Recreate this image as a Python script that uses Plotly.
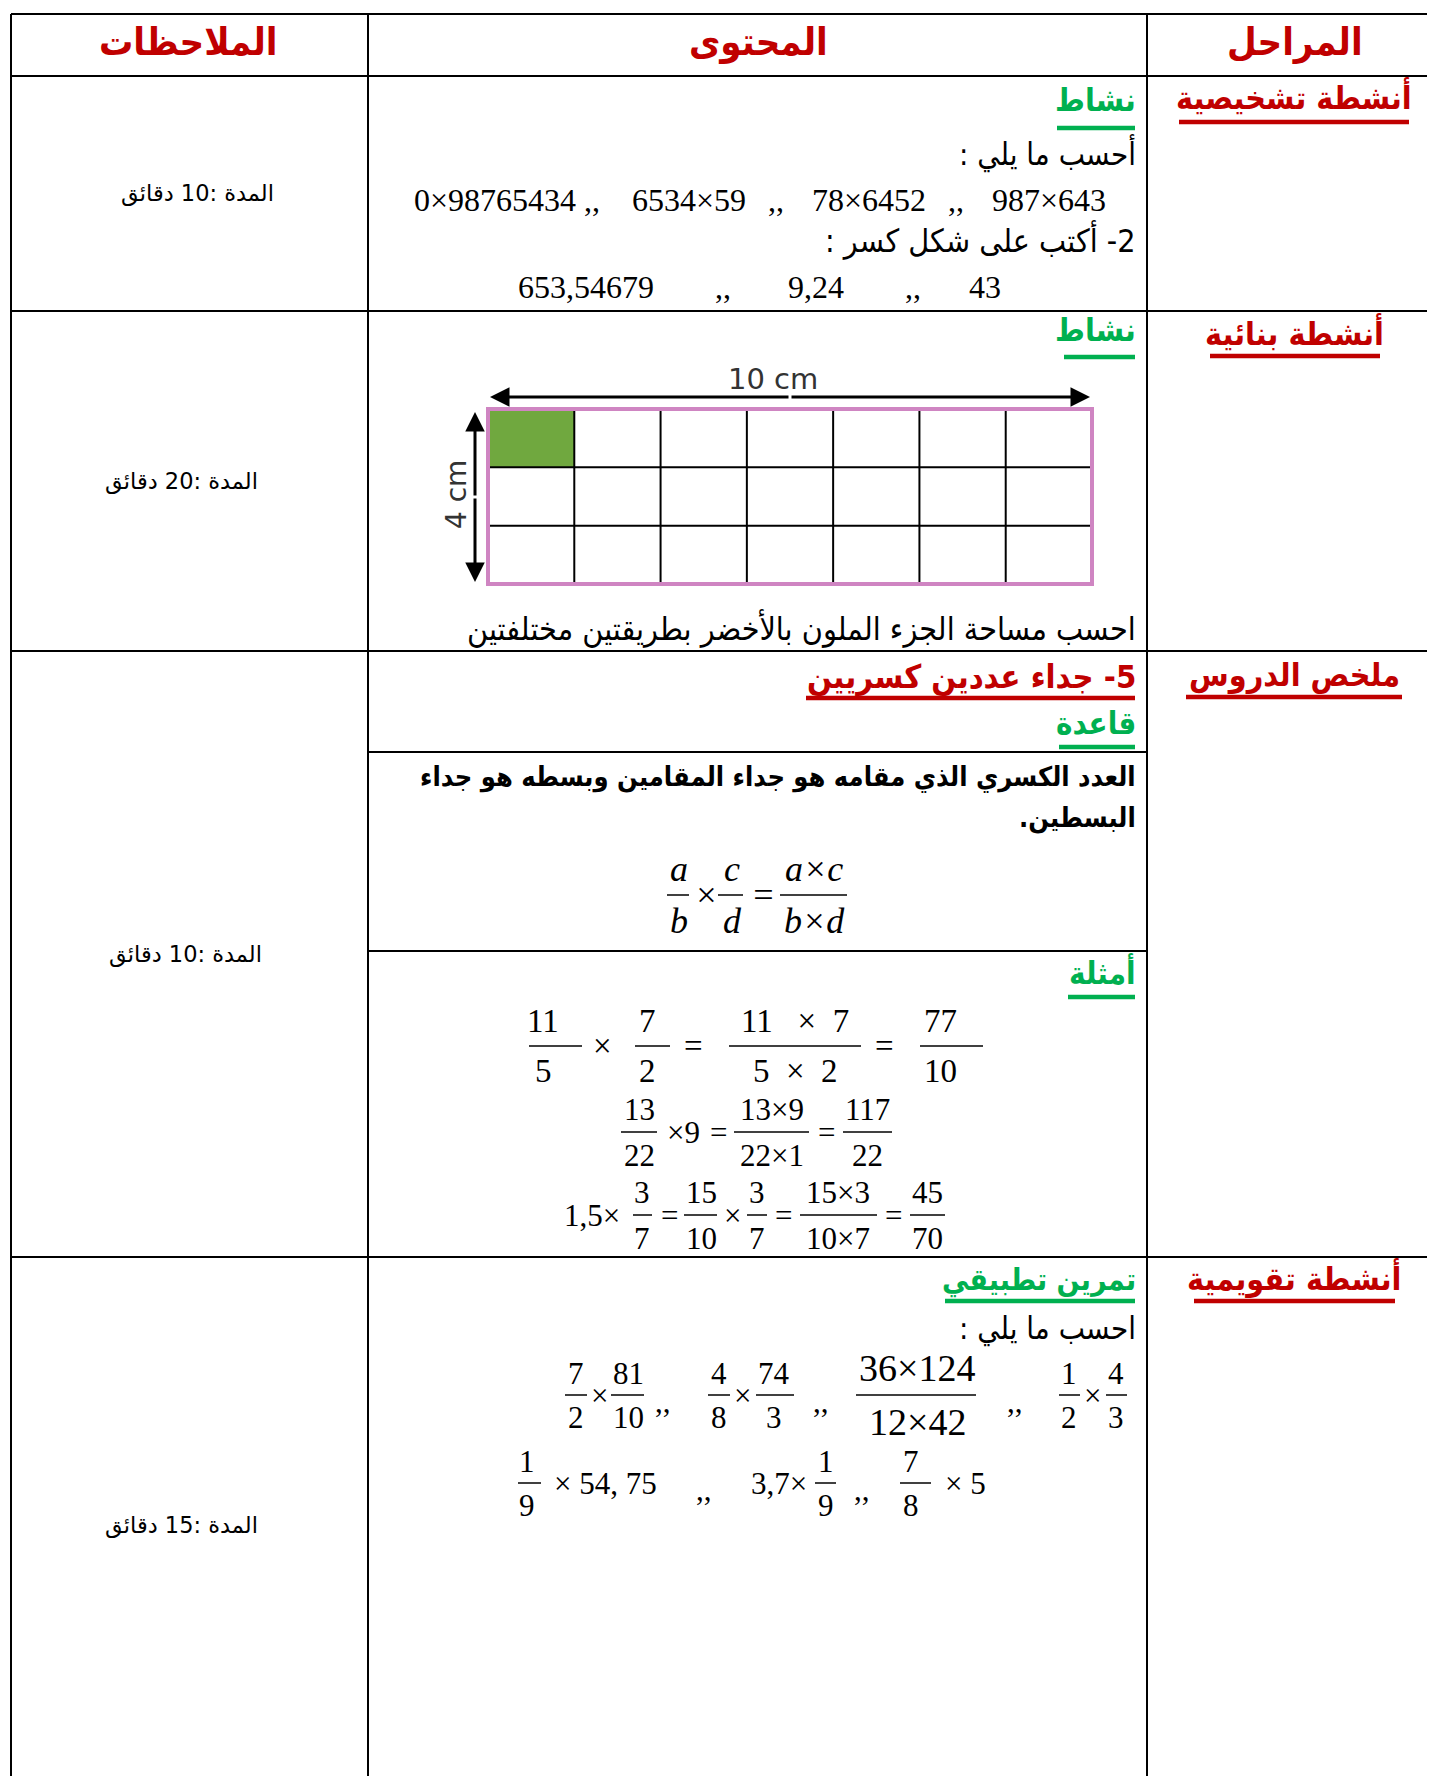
import plotly.graph_objects as go

W, H = 1435, 1784
PAGE_PAD = 8  # browser body margin, compensated in the axis ranges
RED = "#C00000"
GREEN = "#00B050"
AR = "DejaVu Sans Condensed, DejaVu Sans, sans-serif"
AR_PLAIN = "DejaVu Sans, sans-serif"
SERIF = "Liberation Serif, Times New Roman, serif"
RLM = "\u200F"

# ---- table content ----
headers = ["الملاحظات", "المحتوى", "المراحل"]
stages = ["أنشطة تشخيصية", "أنشطة بنائية", "ملخص الدروس", "أنشطة تقويمية"]
durations = ["المدة :10 دقائق", "المدة :20 دقائق", "المدة :10 دقائق", "المدة :15 دقائق"]

activity = "نشاط"
compute = "أحسب ما يلي :"
products = ["0×98765434", ",,", "6534×59", ",,", "78×6452", ",,", "987×643"]
write_frac = "2- أكتب على شكل كسر :"
decimals = ["653,54679", ",,", "9,24", ",,", "43"]

grid_cols, grid_rows = 7, 3
shaded = (0, 0)
width_label, height_label = "10 cm", "4 cm"
area_task = "احسب مساحة الجزء الملون بالأخضر بطريقتين مختلفتين"

lesson_title = "5- جداء عددين كسريين"
rule_title = "قاعدة"
rule_lines = ["العدد الكسري الذي مقامه هو جداء المقامين وبسطه هو جداء", "البسطين."]
formula = [("a", "b"), "×", ("c", "d"), "=", ("a×c", "b×d")]
examples_title = "أمثلة"
example1 = [("11", "5"), "×", ("7", "2"), "=", ("11   ×  7", "5  ×  2"), "=", ("77", "10")]
example2 = [("13", "22"), "×9", "=", ("13×9", "22×1"), "=", ("117", "22")]
example3 = ["1,5×", ("3", "7"), "=", ("15", "10"), "×", ("3", "7"), "=", ("15×3", "10×7"), "=", ("45", "70")]

exercise_title = "تمرين تطبيقي"
compute2 = "احسب ما يلي :"
exercise1 = [("7", "2"), "×", ("81", "10"), ",,", ("4", "8"), "×", ("74", "3"), ",,",
             ("36×124", "12×42"), ",,", ("1", "2"), "×", ("4", "3")]
exercise2 = [("1", "9"), "× 54, 75", ",,", "3,7×", ("1", "9"), ",,", ("7", "8"), "× 5"]

# ---- layout geometry ----
col_x = [11, 368, 1147]
row_y = [14, 76, 311, 651, 1257]
inner_y = [752, 951]

fig = go.Figure()
shapes = []
ann = []


def line(x0, y0, x1, y1, color="black", w=2):
    shapes.append(dict(type="line", x0=x0, y0=y0, x1=x1, y1=y1, xref="x", yref="y",
                       line=dict(color=color, width=w)))


def txt(x, y, s, size, color="black", font=AR, xanchor="center", bold=False, italic=False,
        angle=0, rtl=False):
    if rtl:
        s = RLM + s + RLM
    if bold:
        s = "<b>" + s + "</b>"
    if italic:
        s = "<i>" + s + "</i>"
    ann.append(dict(x=x, y=y, xref="x", yref="y", text=s, showarrow=False, xanchor=xanchor,
                    yanchor="middle", textangle=angle, font=dict(size=size, color=color, family=font)))


def expr(tokens, xs, bars, ybar, dy, size, italic=False, sizes=None):
    for i, tok in enumerate(tokens):
        sz = sizes[i] if sizes else size
        if isinstance(tok, tuple):
            num, den = tok
            d = dy if sz == size else dy + 5
            txt(xs[i], ybar - d, num, sz, font=SERIF, italic=italic)
            txt(xs[i], ybar + d, den, sz, font=SERIF, italic=italic)
            b0, b1 = bars[i]
            line(b0, ybar, b1, ybar, w=1.5)
        else:
            off = 6 if tok == ",," else 0
            txt(xs[i], ybar + off, tok, sz, font=SERIF, italic=italic)


# table frame (no right / bottom border, as in the page crop)
for y in row_y:
    line(col_x[0], y, W, y)
for x in col_x:
    line(x, row_y[0], x, H)
for y in inner_y:
    line(col_x[1], y, col_x[2], y)

# headers
for x, h in zip([188, 758, 1295], headers):
    txt(x, 42, h, 38, RED, bold=True, rtl=True)

# stage labels with underline
stage_y = [97, 333, 675, 1278]
stage_ul = [(1179, 1409, 122), (1210, 1380, 356), (1186, 1402, 697), (1194, 1395, 1301)]
for s, y, (u0, u1, uy) in zip(stages, stage_y, stage_ul):
    txt(1294, y, s, 32, RED, bold=True, rtl=True)
    line(u0, uy, u1, uy, RED, 4.5)

# durations
for s, (x, y) in zip(durations, [(197, 193), (181, 481), (185, 954), (181, 1525)]):
    txt(x, y, s, 22.5, font=AR_PLAIN, rtl=True)

RX = 1138   # right anchor of content text
UX = 1135   # right end of content underlines

# row 1
txt(RX, 100, activity, 32, GREEN, xanchor="right", bold=True, rtl=True)
line(1057, 128, UX, 128, GREEN, 4.5)
txt(RX, 153, compute, 31, xanchor="right", rtl=True)
for s, x in zip(products, [495, 592, 689, 776, 869, 956, 1049]):
    txt(x, 200, s, 32, font=SERIF)
txt(RX, 240, write_frac, 32, xanchor="right", rtl=True)
for s, x in zip(decimals, [586, 723, 816, 913, 985]):
    txt(x, 287, s, 32, font=SERIF)

# row 2
txt(RX, 330, activity, 32, GREEN, xanchor="right", bold=True, rtl=True)
line(1064, 357, UX, 357, GREEN, 4.5)
gx0, gx1, gy0, gy1 = 488, 1092, 409, 584
cw = (gx1 - gx0) / grid_cols
ch = (gy1 - gy0) / grid_rows
c, r = shaded
shapes.append(dict(type="rect", x0=gx0 + c * cw, x1=gx0 + (c + 1) * cw, y0=gy0 + r * ch,
                   y1=gy0 + (r + 1) * ch, xref="x", yref="y", fillcolor="#70A83F",
                   line=dict(width=0)))
for i in range(1, grid_cols):
    line(gx0 + i * cw, gy0, gx0 + i * cw, gy1, w=2)
for j in range(1, grid_rows):
    line(gx0, gy0 + j * ch, gx1, gy0 + j * ch, w=2)
shapes.append(dict(type="rect", x0=gx0, x1=gx1, y0=gy0, y1=gy1, xref="x", yref="y",
                   line=dict(color="#CF85C2", width=4)))
for hx in [490, 1090]:
    ann.append(dict(x=hx, y=397, ax=790, ay=397, xref="x", yref="y", axref="x", ayref="y",
                    text="", showarrow=True, arrowhead=2, arrowsize=1.3, arrowwidth=3,
                    arrowcolor="black"))
for hy in [412, 582]:
    ann.append(dict(x=475, y=hy, ax=475, ay=497, xref="x", yref="y", axref="x", ayref="y",
                    text="", showarrow=True, arrowhead=2, arrowsize=1.3, arrowwidth=3,
                    arrowcolor="black"))
txt(773, 379, width_label, 29, "#333333", font="DejaVu Sans")
txt(456, 495, height_label, 28, "#333333", font="DejaVu Sans", angle=-90)
txt(RX, 628, area_task, 32, xanchor="right", rtl=True)

# row 3
txt(RX, 677, lesson_title, 32.5, RED, xanchor="right", bold=True, rtl=True)
line(806, 698, UX, 698, RED, 4.5)
txt(RX, 723, rule_title, 31, GREEN, xanchor="right", bold=True, rtl=True)
line(1059, 747, UX, 747, GREEN, 4.5)
txt(RX, 777, rule_lines[0], 27, xanchor="right", bold=True, rtl=True)
txt(RX, 818, rule_lines[1], 27, xanchor="right", bold=True, rtl=True)
expr(formula, [679, 706, 732, 763, 814], [(667, 689), None, (718, 743), None, (780, 847)],
     895, 26, 36, italic=True)
txt(RX, 972, examples_title, 31, GREEN, xanchor="right", bold=True, rtl=True)
line(1068, 997, UX, 997, GREEN, 4.5)
expr(example1, [543, 602, 647, 693, 795, 884, 940],
     [(529, 582), None, (635, 670), None, (729, 861), None, (920, 983)], 1046, 25, 33)
expr(example2, [639, 683, 718, 772, 826, 867],
     [(621, 657), None, None, (734, 809), None, (843, 892)], 1132, 23, 31)
expr(example3, [592, 642, 669, 701, 732, 757, 783, 838, 893, 927],
     [None, (633, 652), None, (684, 717), None, (747, 767), None, (800, 877), None, (910, 945)],
     1215, 23, 31)

# row 4
txt(RX, 1280, exercise_title, 30, GREEN, xanchor="right", bold=True, rtl=True)
line(945, 1301, UX, 1301, GREEN, 4.5)
txt(RX, 1328, compute2, 31, xanchor="right", rtl=True)
expr(exercise1, [576, 599, 628, 663, 719, 742, 774, 821, 917, 1015, 1069, 1092, 1116],
     [(565, 587), None, (611, 644), None, (708, 730), None, (756, 794), None, (856, 976), None,
      (1059, 1080), None, (1106, 1127)], 1395, 22, 31,
     sizes=[31, 31, 31, 31, 31, 31, 31, 31, 38, 31, 31, 31, 31])
expr(exercise2, [527, 605, 704, 779, 826, 862, 911, 965],
     [(518, 541), None, None, None, (815, 836), None, (900, 931), None], 1483, 22, 31)

fig.update_layout(
    width=W - 2 * PAGE_PAD, height=H - 2 * PAGE_PAD, autosize=False,
    margin=dict(l=0, r=0, t=0, b=0),
    paper_bgcolor="white", plot_bgcolor="white",
    xaxis=dict(range=[PAGE_PAD, W - PAGE_PAD], visible=False, fixedrange=True),
    yaxis=dict(range=[H - PAGE_PAD, PAGE_PAD], visible=False, fixedrange=True),
    shapes=shapes, annotations=ann, showlegend=False,
)
fig.write_html("out.html")
